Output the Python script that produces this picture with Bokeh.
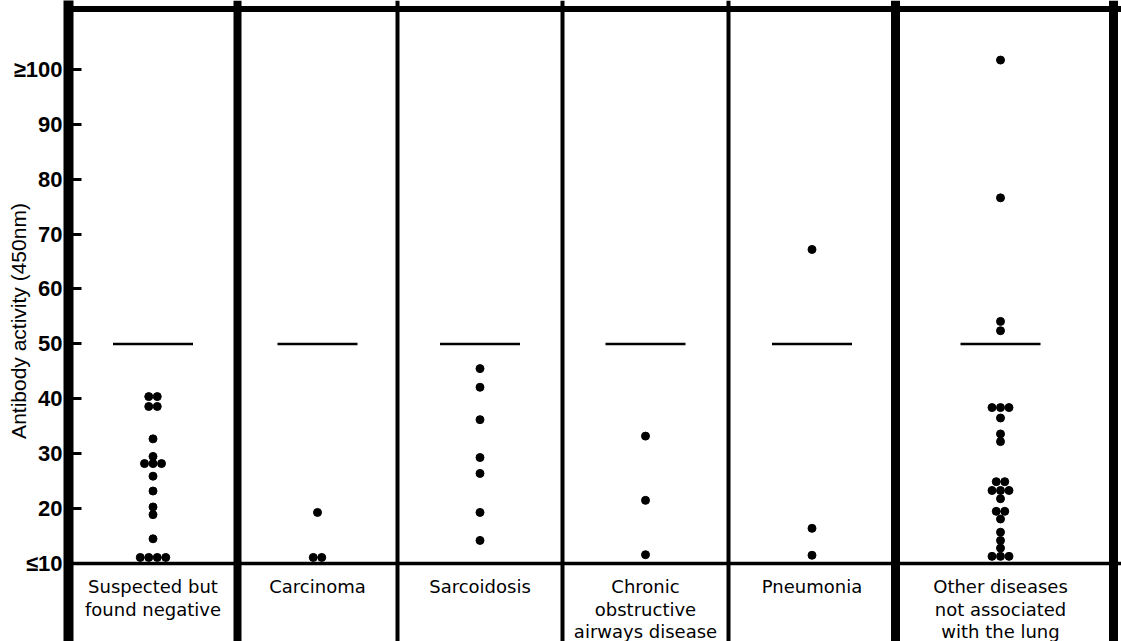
import numpy as np
from bokeh.plotting import figure
from bokeh.models import Range1d, FixedTicker, Span
from bokeh.embed import file_html
from bokeh.resources import INLINE
from bokeh.core.properties import value

# ---------------- data ----------------
categories = [
    "Suspected but\nfound negative",
    "Carcinoma",
    "Sarcoidosis",
    "Chronic\nobstructive\nairways disease",
    "Pneumonia",
    "Other diseases\nnot associated\nwith the lung",
]
suspected = [40.4, 40.4, 38.6, 38.6, 32.7, 29.5, 28.2, 28.2, 28.2, 25.9, 23.2,
             20.3, 18.9, 14.5, 11.1, 11.1, 11.1, 11.1]
carcinoma = [19.3, 11.1, 11.1]
sarcoidosis = [45.5, 42.1, 36.2, 29.3, 26.4, 19.3, 14.2]
chronic_obstructive = [33.2, 21.5, 11.6]
pneumonia = [67.2, 16.4, 11.5]
other_diseases = [101.7, 76.6, 54.1, 52.4, 38.4, 38.4, 38.4, 36.5, 33.6, 32.2,
                  24.9, 24.9, 23.3, 23.3, 23.3, 21.8, 19.5, 19.5, 18.1, 15.7,
                  14.2, 12.8, 11.3, 11.3, 11.3]
series = [suspected, carcinoma, sarcoidosis, chronic_obstructive, pneumonia, other_diseases]
threshold = 50
y_ticks = [10, 20, 30, 40, 50, 60, 70, 80, 90, 100]
y_tick_labels = ["≤10", "20", "30", "40", "50", "60", "70", "80", "90", "≥100"]
y_title = "Antibody activity (450nm)"

# ---------------- layout ----------------
panel_edges = [0, 169, 329, 494, 660, 827, 1037]
divider_widths = [8, 4, 4, 4, 9]
centers = [(panel_edges[i] + panel_edges[i + 1]) / 2 for i in range(len(categories))]
dot_step = 8.5
half_line = 40

p = figure(width=1121, height=641, x_range=Range1d(0, 1053), y_range=Range1d(-4.21, 112.55),
           x_axis_location=None, output_backend="svg", toolbar_location=None,
           min_border_left=68, min_border_right=0, min_border_top=0, min_border_bottom=0)
p.grid.visible = False
p.outline_line_color = None
p.background_fill_color = "white"
p.border_fill_color = "white"

ya = p.yaxis[0]
ya.ticker = FixedTicker(ticks=y_ticks)
ya.major_label_overrides = {t: l for t, l in zip(y_ticks, y_tick_labels)}
ya.axis_line_width = 10
ya.axis_line_color = "black"
ya.major_tick_in = 13
ya.major_tick_out = 0
ya.major_tick_line_width = 3
ya.minor_tick_line_color = None
ya.major_label_standoff = 6
ya.major_label_text_font = "Liberation Sans"
ya.major_label_text_font_style = "bold"
ya.major_label_text_font_size = "22px"
ya.major_label_text_color = "black"
ya.axis_label = y_title
ya.axis_label_text_font = "Liberation Sans"
ya.axis_label_text_font_style = "normal"
ya.axis_label_text_font_size = "21px"
ya.axis_label_text_color = "black"
ya.axis_label_standoff = -19

# dots (spread equal values sideways)
xs, ys = [], []
for c, vals in zip(centers, series):
    uniq = []
    for v in vals:
        if v not in uniq:
            uniq.append(v)
    for v in uniq:
        n = vals.count(v)
        for k in range(n):
            xs.append(c + (k - (n - 1) / 2) * dot_step)
            ys.append(v)
p.scatter(xs, ys, size=8, color="black")

# threshold lines
p.segment(x0=[c - half_line for c in centers], y0=[threshold] * len(centers),
          x1=[c + half_line for c in centers], y1=[threshold] * len(centers),
          line_width=2.5, line_color="black")

# frame pieces
for e, w in zip(panel_edges[1:-1], divider_widths):
    p.add_layout(Span(location=e, dimension="height", line_width=w, line_color="black"))
p.add_layout(Span(location=1045, dimension="height", line_width=9, line_color="black"))
p.add_layout(Span(location=111.0, dimension="width", line_width=6, line_color="black"))
p.add_layout(Span(location=10, dimension="width", line_width=3.5, line_color="black"))

# category labels
p.text(x=centers, y=[7.63] * len(centers), text=categories, text_align="center",
       text_baseline="top", text_font=value("DejaVu Sans"), text_font_size=value("18px"),
       text_line_height=1.05, text_color="black")

open("out.html", "w").write(file_html(p, INLINE))
